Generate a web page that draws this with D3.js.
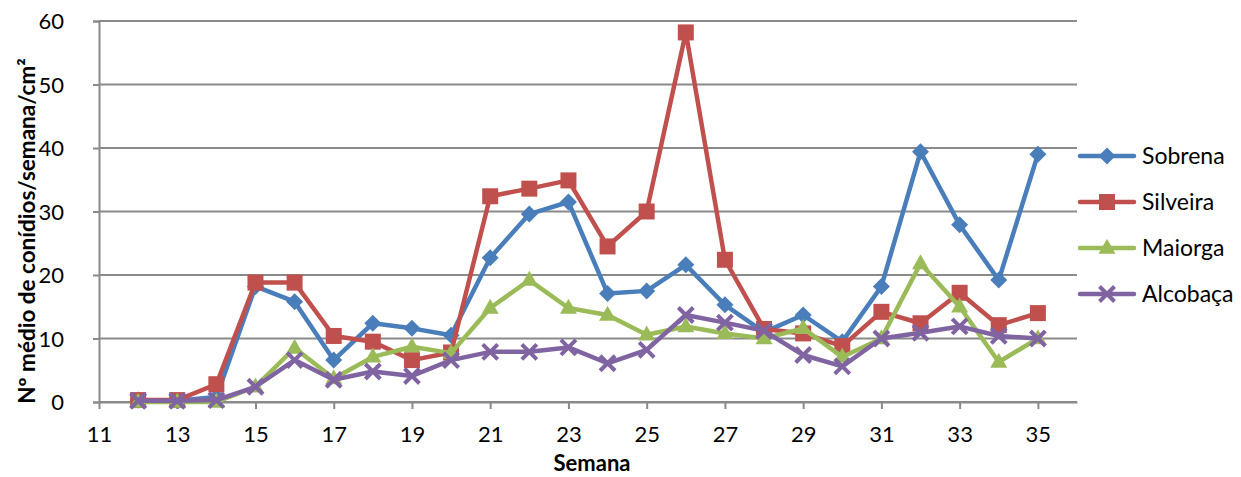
<!DOCTYPE html>
<html>
<head>
<meta charset="utf-8">
<script src="https://cdn.jsdelivr.net/npm/d3@7"></script>
<style>
html,body{margin:0;padding:0;background:#fff;}
svg{display:block;}
text{font-family:Lato,"Open Sans",sans-serif;fill:#000;}
</style>
</head>
<body>
<svg id="chart" width="1241" height="477"></svg>
<script>
const weeks = [12,13,14,15,16,17,18,19,20,21,22,23,24,25,26,27,28,29,30,31,32,33,34,35];
const sobrena  = [0.3,0.2,0.8,18.2,15.8,6.6,12.4,11.6,10.5,22.7,29.6,31.5,17.1,17.5,21.6,15.3,11.0,13.7,9.5,18.2,39.4,27.9,19.2,39.0];
const silveira = [0.3,0.3,2.8,18.8,18.8,10.4,9.5,6.6,7.8,32.4,33.6,34.9,24.5,30.0,58.2,22.4,11.5,10.8,8.8,14.2,12.4,17.2,12.1,14.0];
const maiorga  = [0.0,0.0,0.0,2.4,8.5,3.7,7.1,8.7,7.7,14.8,19.2,14.8,13.7,10.6,11.9,10.8,10.0,11.6,7.1,10.0,21.8,15.0,6.3,10.0];
const alcobaca = [0.2,0.2,0.3,2.4,6.6,3.5,4.8,4.1,6.6,7.9,7.9,8.6,6.1,8.2,13.7,12.5,11.2,7.4,5.6,10.0,10.9,11.9,10.4,10.0];
const seriesNames = ["Sobrena","Silveira","Maiorga","Alcobaça"];
const xTicks = [11,13,15,17,19,21,23,25,27,29,31,33,35];
const yTicks = [0,10,20,30,40,50,60];
const xLabel = "Semana";
const yLabel = "Nº médio de conídios/semana/cm²";

const series = [
  {name: seriesNames[0], values: sobrena,  color: "#4A7EBB", marker: "diamond"},
  {name: seriesNames[1], values: silveira, color: "#C0504D", marker: "square"},
  {name: seriesNames[2], values: maiorga,  color: "#9BBB59", marker: "triangle"},
  {name: seriesNames[3], values: alcobaca, color: "#8064A2", marker: "x"}
];

const svg = d3.select("#chart");
const pLeft = 99, pRight = 1077, pTop = 21, pBottom = 402;
const x = d3.scaleLinear().domain([11, 36]).range([pLeft, pRight]);
const y = d3.scaleLinear().domain([0, 60]).range([pBottom, pTop]);
const gridColor = "#8a8a8a";

// gridlines
svg.append("g").selectAll("line").data(yTicks).join("line")
  .attr("x1", pLeft).attr("x2", pRight)
  .attr("y1", d => y(d)).attr("y2", d => y(d))
  .attr("stroke", gridColor).attr("stroke-width", 2);

// y axis
const yAxis = svg.append("g").attr("transform", `translate(${pLeft},0)`)
  .call(d3.axisLeft(y).tickValues(yTicks).tickSize(6).tickPadding(10));
yAxis.select(".domain").attr("stroke", gridColor).attr("stroke-width", 2);
yAxis.selectAll(".tick line").attr("stroke", gridColor).attr("stroke-width", 2);
yAxis.selectAll(".tick text").attr("font-size", 22).attr("font-family", "Lato").attr("fill", "#000").attr("x", -35).attr("dy", "0.36em");

// x axis
const xAxis = svg.append("g").attr("transform", `translate(0,${pBottom})`)
  .call(d3.axisBottom(x).tickValues(xTicks).tickSize(7).tickPadding(10).tickSizeOuter(0));
xAxis.select(".domain").attr("stroke", gridColor).attr("stroke-width", 2);
xAxis.selectAll(".tick line").attr("stroke", gridColor).attr("stroke-width", 2);
xAxis.selectAll(".tick text").attr("font-size", 22).attr("font-family", "Lato").attr("fill", "#000").attr("y", 24).attr("dy", "0.71em");

// axis titles
svg.append("text").attr("x", 592).attr("y", 471).attr("text-anchor", "middle")
  .attr("font-size", 22).attr("font-weight", "bold").text(xLabel);
svg.append("text").attr("transform", "translate(35,231) rotate(-90)").attr("text-anchor", "middle")
  .attr("font-size", 22.5).attr("font-weight", "bold").text(yLabel);

function drawMarker(g, type, color, cx, cy) {
  if (type === "diamond") {
    const r = 8.5;
    g.append("path").attr("d", `M${cx},${cy-r}L${cx+r},${cy}L${cx},${cy+r}L${cx-r},${cy}Z`).attr("fill", color);
  } else if (type === "square") {
    const s = 16;
    g.append("rect").attr("x", cx - s/2).attr("y", cy - s/2).attr("width", s).attr("height", s).attr("fill", color);
  } else if (type === "triangle") {
    const w = 17, h = 15;
    g.append("path").attr("d", `M${cx},${cy-h*0.62}L${cx+w/2},${cy+h*0.38}L${cx-w/2},${cy+h*0.38}Z`).attr("fill", color);
  } else if (type === "x") {
    const r = 7.5;
    g.append("path").attr("d", `M${cx-r},${cy-r}L${cx+r},${cy+r}M${cx-r},${cy+r}L${cx+r},${cy-r}`)
      .attr("stroke", color).attr("stroke-width", 4).attr("fill", "none");
  }
}

const line = d3.line().x(d => x(d[0])).y(d => y(d[1]));
series.forEach(s => {
  const g = svg.append("g");
  const pts = weeks.map((w, i) => [w, s.values[i]]);
  g.append("path").datum(pts).attr("d", line).attr("fill", "none")
    .attr("stroke", s.color).attr("stroke-width", 4.5).attr("stroke-linejoin", "round");
  pts.forEach(p => drawMarker(g, s.marker, s.color, x(p[0]), y(p[1])));
});

// legend
const legY = [156, 202, 248, 294];
series.forEach((s, i) => {
  const g = svg.append("g");
  g.append("line").attr("x1", 1080).attr("x2", 1134).attr("y1", legY[i]).attr("y2", legY[i])
    .attr("stroke", s.color).attr("stroke-width", 4.5).attr("stroke-linecap", "round");
  drawMarker(g, s.marker, s.color, 1107, legY[i]);
  g.append("text").attr("x", 1142).attr("y", legY[i]).attr("dy", "0.36em")
    .attr("font-size", 23).text(s.name);
});
</script>
</body>
</html>
